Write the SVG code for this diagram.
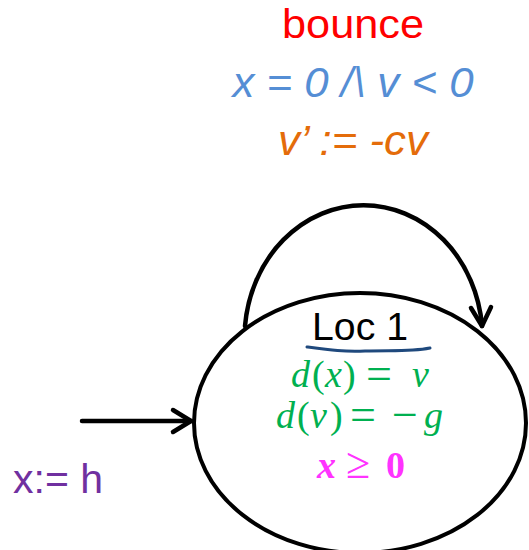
<svg xmlns="http://www.w3.org/2000/svg" width="529" height="550" viewBox="0 0 529 550">
<style>
.ln{fill:none;stroke:#000;stroke-width:4.5;stroke-linecap:round;stroke-linejoin:round}
.sans{font-family:"Liberation Sans",Arial,sans-serif}
.math{font-family:"Liberation Serif","Times New Roman",serif;font-size:38px;fill:#00B050}
.op{font-size:46px}
.it{font-style:italic}
</style>
<rect width="529" height="550" fill="#fff"/>
<g id="connectors">
  <path class="ln" d="M245 326 A119 133 0 0 1 482 326"/>
  <polyline class="ln" points="471,308 482,326 491,307"/>
  <line class="ln" x1="82" y1="421" x2="191" y2="421"/>
  <polyline class="ln" points="173,410 191,421 173,432"/>
</g>
<g id="edge-label">
  <text class="sans" x="353" y="38" font-size="40" fill="#FF0000" text-anchor="middle" textLength="142" lengthAdjust="spacingAndGlyphs">bounce</text>
  <text class="sans it" x="353" y="97" font-size="42" fill="#558ED5" text-anchor="middle" textLength="241" lengthAdjust="spacingAndGlyphs">x = 0 /\ v &lt; 0</text>
  <text class="sans it" x="353" y="155" font-size="42" fill="#E46C0A" text-anchor="middle" textLength="150" lengthAdjust="spacingAndGlyphs">v’ := -cv</text>
</g>
<g id="init-label">
  <text class="sans" x="13" y="493" font-size="40" fill="#7030A0" textLength="90" lengthAdjust="spacingAndGlyphs">x:= h</text>
</g>
<g id="loc1">
  <ellipse cx="360" cy="423" rx="166" ry="130" fill="#fff" stroke="#000" stroke-width="4"/>
  <text class="sans" x="360" y="340" font-size="39" fill="#000" text-anchor="middle" textLength="96" lengthAdjust="spacingAndGlyphs">Loc 1</text>
  <path d="M307 347 C330 350 345 352 365 351 C390 350 410 352 430 348" fill="none" stroke="#1F497D" stroke-width="3" stroke-linecap="round"/>
  <text class="math"><tspan class="it" x="291" y="387">d</tspan><tspan x="312" y="387">(</tspan><tspan class="it" x="325" y="387">x</tspan><tspan x="343" y="387">)</tspan><tspan class="op" x="366" y="389">=</tspan><tspan class="it" x="412" y="387">v</tspan></text>
  <text class="math"><tspan class="it" x="276" y="428">d</tspan><tspan x="297" y="428">(</tspan><tspan class="it" x="310" y="428">v</tspan><tspan x="330" y="428">)</tspan><tspan class="op" x="350" y="430">=</tspan><tspan class="op" x="392" y="430">−</tspan><tspan class="it" x="424" y="428">g</tspan></text>
  <text class="math" style="fill:#FF33FF" font-weight="bold" font-size="40"><tspan class="it" x="317" y="478">x</tspan><tspan x="346" y="478" font-weight="normal" font-size="44">≥</tspan><tspan x="386" y="478">0</tspan></text>
</g>
</svg>
